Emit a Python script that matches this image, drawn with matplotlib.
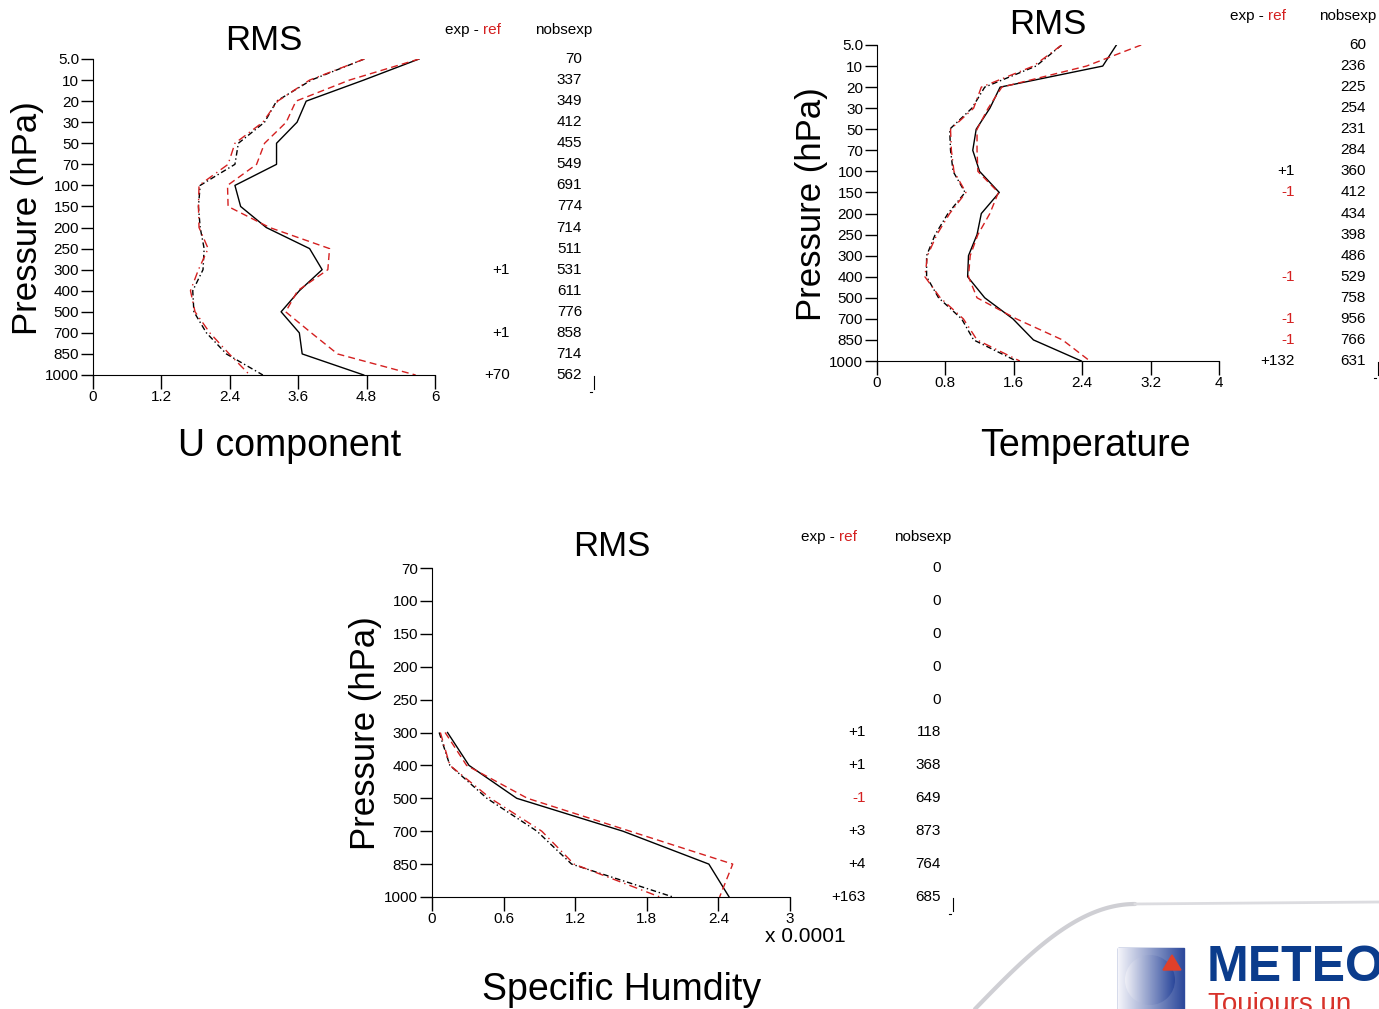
import numpy as np
import matplotlib
matplotlib.use("Agg")
import matplotlib.pyplot as plt
from matplotlib.patches import Circle, Polygon, Rectangle

plt.rcParams['font.family'] = ['Liberation Sans', 'DejaVu Sans']

# pressure levels (equally spaced on the plot)
levels_ut = ['5.0', '10', '20', '30', '50', '70', '100', '150', '200', '250',
             '300', '400', '500', '700', '850', '1000']
levels_q = ['70', '100', '150', '200', '250', '300', '400', '500', '700', '850', '1000']

# U component
u_exp_rms = [5.72, 4.75, 3.74, 3.58, 3.22, 3.22, 2.49, 2.59, 3.04, 3.80, 4.02, 3.62, 3.30, 3.62, 3.67, 4.75]
u_ref_rms = [5.72, 4.50, 3.56, 3.39, 3.01, 2.87, 2.36, 2.37, 3.10, 4.15, 4.12, 3.59, 3.38, 3.83, 4.29, 5.66]
u_exp_std = [4.76, 3.83, 3.22, 3.01, 2.55, 2.49, 1.88, 1.85, 1.88, 1.95, 1.93, 1.75, 1.77, 1.99, 2.34, 2.98]
u_ref_std = [4.76, 3.80, 3.24, 2.98, 2.49, 2.37, 1.86, 1.85, 1.86, 2.02, 1.85, 1.71, 1.79, 2.05, 2.39, 2.75]
u_nobs = ['70', '337', '349', '412', '455', '549', '691', '774', '714', '511', '531', '611', '776', '858', '714', '562']
u_diff = ['', '', '', '', '', '', '', '', '', '', '+1', '', '', '+1', '', '+70']

# Temperature
t_exp_rms = [2.80, 2.64, 1.44, 1.32, 1.16, 1.12, 1.20, 1.43, 1.22, 1.17, 1.07, 1.06, 1.26, 1.59, 1.83, 2.39]
t_ref_rms = [3.09, 2.45, 1.46, 1.30, 1.17, 1.17, 1.18, 1.42, 1.32, 1.18, 1.09, 1.07, 1.17, 1.63, 2.17, 2.49]
t_exp_std = [2.16, 1.86, 1.26, 1.11, 0.85, 0.86, 0.89, 1.03, 0.83, 0.68, 0.58, 0.58, 0.72, 0.99, 1.13, 1.63]
t_ref_std = [2.16, 1.83, 1.22, 1.13, 0.86, 0.87, 0.90, 1.04, 0.85, 0.70, 0.59, 0.56, 0.74, 1.01, 1.17, 1.67]
t_nobs = ['60', '236', '225', '254', '231', '284', '360', '412', '434', '398', '486', '529', '758', '956', '766', '631']
t_diff = ['', '', '', '', '', '', '+1', '-1', '', '', '', '-1', '', '-1', '-1', '+132']

# Specific humidity (x 0.0001), only 300-1000 hPa
q_levels_used = ['300', '400', '500', '700', '850', '1000']
q_exp_rms = [0.13, 0.31, 0.71, 1.60, 2.32, 2.49]
q_ref_rms = [0.11, 0.29, 0.80, 1.66, 2.52, 2.41]
q_exp_std = [0.06, 0.15, 0.46, 0.88, 1.17, 2.02]
q_ref_std = [0.07, 0.15, 0.49, 0.92, 1.19, 1.91]
q_nobs = ['0', '0', '0', '0', '0', '118', '368', '649', '873', '764', '685']
q_diff = ['', '', '', '', '', '+1', '+1', '-1', '+3', '+4', '+163']

W, H = 1379, 1009
fig = plt.figure(figsize=(W / 100, H / 100), dpi=100)


def add_axes_px(left, top, right, bottom):
    return fig.add_axes([left / W, 1 - bottom / H, (right - left) / W, (bottom - top) / H])


def draw_profile(ax, labels, ypos, exp_rms, ref_rms, exp_std, ref_std, xmax, xticks, xticklabels):
    ax.plot(exp_rms, ypos, color='black', lw=1.0)
    ax.plot(ref_rms, ypos, color='#d42020', lw=1.0, ls=(0, (5, 3)))
    ax.plot(exp_std, ypos, color='black', lw=1.0, ls=(0, (4, 2, 1, 2)))
    ax.plot(ref_std, ypos, color='#d42020', lw=1.0, ls=(0, (6, 3, 1, 3)))
    ax.set_xlim(0, xmax)
    ax.set_ylim(len(labels) - 1, 0)
    ax.set_yticks(range(len(labels)))
    ax.set_yticklabels(labels)
    ax.set_xticks(xticks)
    ax.set_xticklabels(xticklabels)
    for s in ['top', 'right']:
        ax.spines[s].set_visible(False)
    ax.tick_params(axis='both', direction='out', length=9, width=1, labelsize=11, pad=1)
    ax.tick_params(axis='x', length=10)
    ax.set_facecolor('none')


# U component
ax1 = add_axes_px(93, 59, 435, 375)
y1 = np.arange(len(levels_ut))
draw_profile(ax1, levels_ut, y1, u_exp_rms, u_ref_rms, u_exp_std, u_ref_std,
             6, [0, 1.2, 2.4, 3.6, 4.8, 6], ['0', '1.2', '2.4', '3.6', '4.8', '6'])

# Temperature
ax2 = add_axes_px(877, 45, 1219, 361)
draw_profile(ax2, levels_ut, y1, t_exp_rms, t_ref_rms, t_exp_std, t_ref_std,
             4, [0, 0.8, 1.6, 2.4, 3.2, 4], ['0', '0.8', '1.6', '2.4', '3.2', '4'])

# Specific humidity
ax3 = add_axes_px(432, 568, 790, 897)
yq = [levels_q.index(l) for l in q_levels_used]
draw_profile(ax3, levels_q, yq, q_exp_rms, q_ref_rms, q_exp_std, q_ref_std,
             3, [0, 0.6, 1.2, 1.8, 2.4, 3], ['0', '0.6', '1.2', '1.8', '2.4', '3'])

# overlay in pixel coordinates for texts and logo
ov = fig.add_axes([0, 0, 1, 1])
ov.set_xlim(0, W)
ov.set_ylim(H, 0)
ov.axis('off')
ov.set_facecolor('none')


def side_table(x_diff, x_nobs, y_head, y_top, y_bot, diffs, nobs, fs=11):
    n = len(nobs)
    ys = np.linspace(y_top, y_bot, n)
    ov.text(x_diff - 27, y_head, 'exp - ', ha='right', va='center', fontsize=fs)
    ov.text(x_diff - 27, y_head, 'ref', ha='left', va='center', fontsize=fs, color='#d42020')
    ov.text(x_nobs + 10, y_head, 'nobsexp', ha='right', va='center', fontsize=fs)
    for y, d, nb in zip(ys, diffs, nobs):
        ov.text(x_nobs, y, nb, ha='right', va='center', fontsize=fs)
        if d:
            col = '#d42020' if d.startswith('-') else 'black'
            ov.text(x_diff, y, d, ha='right', va='center', fontsize=fs, color=col)
    # small end mark under the table
    ov.plot([x_nobs + 12, x_nobs + 12], [y_bot + 1, y_bot + 14], color='black', lw=0.8)
    ov.plot([x_nobs + 8, x_nobs + 10], [y_bot + 17, y_bot + 17], color='black', lw=0.8)


side_table(510, 582, 30, 59, 375, u_diff, u_nobs)
side_table(1295, 1366, 16, 45, 361, t_diff, t_nobs)
side_table(866, 941, 537, 568, 897, q_diff, q_nobs)

# titles, captions, axis labels
ov.text(264, 40, 'RMS', ha='center', va='center', fontsize=25)
ov.text(1048, 25, 'RMS', ha='center', va='center', fontsize=25)
ov.text(612, 547, 'RMS', ha='center', va='center', fontsize=25)
ov.text(290, 446, 'U component', ha='center', va='center', fontsize=27)
ov.text(1085, 446, 'Temperature', ha='center', va='center', fontsize=27)
ov.text(622, 990, 'Specific Humdity', ha='center', va='center', fontsize=27)
ov.text(28, 218, 'Pressure (hPa)', ha='center', va='center', rotation=90, fontsize=25)
ov.text(812, 204, 'Pressure (hPa)', ha='center', va='center', rotation=90, fontsize=25)
ov.text(365, 733, 'Pressure (hPa)', ha='center', va='center', rotation=90, fontsize=25)
ov.text(805, 936, 'x 0.0001', ha='center', va='center', fontsize=15)

# logo decoration
t = np.linspace(0, 1, 60)
cx = 975 + 160 * t
cy = 1009 - 105 * np.sin(t * np.pi / 2)
ov.plot(cx, cy, color='#cfcfd4', lw=3, solid_capstyle='round')
ov.plot([1135, W], [904, 902], color='#dcdce0', lw=2)
grad = np.linspace(0, 1, 64)[None, :] * np.ones((64, 1))
ov.add_patch(Rectangle((1118, 948), 66, 61, color='#2e4a9c', zorder=2))
ov.imshow(grad, cmap=matplotlib.colors.LinearSegmentedColormap.from_list('g', ['#2e4a9c', '#f4f4fa']),
          extent=(1184, 1118, 1009, 948), zorder=2, aspect='auto')
circ = Circle((1150, 980), 25, transform=ov.transData)
img = ov.imshow(grad, cmap=matplotlib.colors.LinearSegmentedColormap.from_list('c', ['#f2f2f8', '#28459a']),
                extent=(1124, 1176, 1006, 954), zorder=3, aspect='auto')
img.set_clip_path(circ)
ov.add_patch(Polygon([[1163, 970], [1181, 970], [1172, 955]], color='#e0402a', zorder=4))
ov.set_xlim(0, W)
ov.set_ylim(H, 0)
ov.text(1207, 968, 'METEO', ha='left', va='center', fontsize=36, fontweight='bold', color='#0b3c8c')
ov.text(1208, 1005, 'Toujours un', ha='left', va='center', fontsize=20, color='#d8322a')

fig.savefig('out.png', dpi=100)
